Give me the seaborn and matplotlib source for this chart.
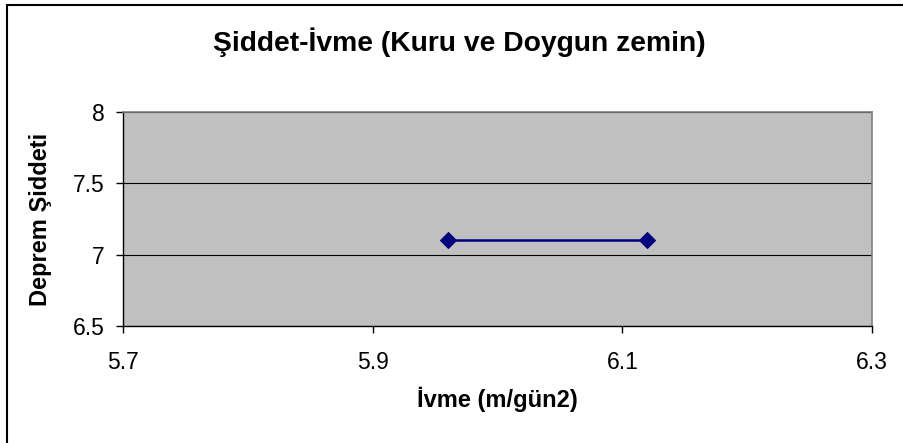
import matplotlib
matplotlib.use('Agg')
import matplotlib.pyplot as plt
import matplotlib.lines as mlines
import seaborn as sns
import pandas as pd

# data
ivme = [5.96, 6.12]
siddet = [7.1, 7.1]
x_ticks = [5.7, 5.9, 6.1, 6.3]
y_ticks = [6.5, 7, 7.5, 8]

sns.set_style('white')
plt.rcParams['font.family'] = ['Liberation Sans', 'DejaVu Sans']
plt.rcParams['text.color'] = 'black'
plt.rcParams['axes.labelcolor'] = 'black'
plt.rcParams['xtick.color'] = 'black'
plt.rcParams['ytick.color'] = 'black'

df = pd.DataFrame({'ivme': ivme, 'siddet': siddet})

fig = plt.figure(figsize=(9.04, 4.43), dpi=100)
ax = fig.add_axes([123 / 904, 1 - 326 / 443, 749 / 904, 214 / 443])
ax.set_facecolor('#C0C0C0')

sns.lineplot(data=df, x='ivme', y='siddet', ax=ax, color='#000080', marker='D',
             markersize=8.5, markeredgecolor='#000080', linewidth=1.8, zorder=3)

ax.set_xlim(5.7, 6.3)
ax.set_ylim(6.5, 8)
ax.set_xticks(x_ticks)
ax.set_xticklabels([str(v) for v in x_ticks])
ax.set_yticks(y_ticks)
ax.set_yticklabels(['6.5', '7', '7.5', '8'])
ax.yaxis.grid(True, color='black', linewidth=0.8)
ax.xaxis.grid(False)
ax.tick_params(axis='both', direction='out', length=5, width=1, color='black',
               labelsize=16.5, bottom=True, left=True)
ax.tick_params(axis='x', pad=13)
ax.tick_params(axis='y', pad=8)

for s in ['top', 'right']:
    ax.spines[s].set_color('#808080')
    ax.spines[s].set_linewidth(1.2)
for s in ['left', 'bottom']:
    ax.spines[s].set_color('black')
    ax.spines[s].set_linewidth(1)

ax.set_xlabel('İvme (m/gün2)', fontsize=17, fontweight='bold', labelpad=9)
ax.set_ylabel('Deprem Şiddeti', fontsize=17, fontweight='bold', labelpad=15)

fig.text(459 / 904, 1 - 42 / 443, 'Şiddet-İvme (Kuru ve Doygun zemin)',
         ha='center', va='center', fontsize=20.3, fontweight='bold')

# outer chart border (only left and top are visible in the reference)
fig.add_artist(mlines.Line2D([7 / 904, 7 / 904], [0, 1 - 5 / 443], color='black', linewidth=1.5))
fig.add_artist(mlines.Line2D([7 / 904, 1], [1 - 5 / 443, 1 - 5 / 443], color='black', linewidth=1.5))

fig.savefig('out.png', dpi=100)
